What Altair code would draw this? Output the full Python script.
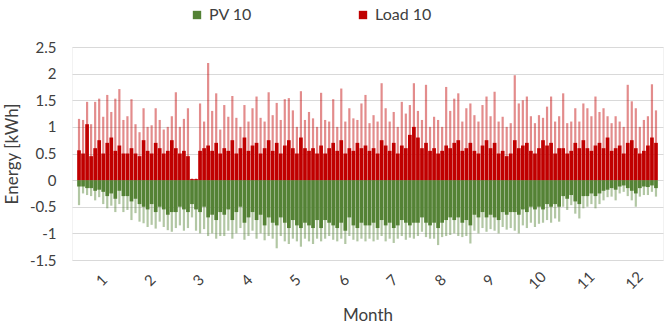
import altair as alt
import pandas as pd

# 12 slots per month, 144 slots over the year
month_labels = [str(m) for m in range(1, 13)]
series_names = ["PV 10", "Load 10"]
series_colors = ["#548235", "#C00000"]

load_peak = [
    1.15, 1.13, 1.47, 1.05, 1.47, 1.53, 1.19, 1.60, 1.28, 1.53, 1.71, 1.13,
    1.20, 1.52, 1.05, 0.90, 1.35, 1.00, 1.03, 1.35, 1.13, 0.95, 1.00, 1.20,
    1.65, 1.00, 1.15, 1.35, 0.03, 0.03, 1.44, 1.10, 2.20, 1.30, 1.63, 0.95,
    1.41, 1.19, 1.58, 1.17, 1.00, 1.41, 1.10, 1.35, 1.57, 1.17, 1.10, 1.65,
    1.22, 1.45, 1.13, 1.52, 1.54, 1.31, 1.00, 1.67, 1.13, 1.28, 1.16, 1.00,
    1.64, 1.13, 1.10, 1.52, 1.00, 1.72, 1.10, 1.35, 1.16, 1.13, 1.44, 1.60,
    1.07, 1.22, 1.10, 1.82, 1.35, 1.10, 1.28, 1.00, 1.47, 1.25, 1.41, 1.82,
    1.30, 1.13, 1.79, 1.00, 1.19, 1.13, 1.00, 1.75, 1.30, 1.53, 1.63, 1.10,
    1.35, 1.44, 1.22, 1.10, 1.41, 1.57, 1.20, 1.66, 1.10, 1.19, 1.00, 1.07,
    1.97, 1.44, 1.50, 1.57, 1.20, 1.07, 1.22, 1.17, 1.38, 1.57, 1.10, 1.20,
    1.63, 1.07, 1.10, 1.35, 1.10, 1.44, 1.35, 1.20, 1.57, 1.28, 1.35, 1.20,
    1.07, 1.20, 1.10, 1.00, 1.79, 1.48, 1.35, 1.00, 1.13, 1.20, 1.80, 1.31,
]
load_core = [
    0.56, 0.50, 1.05, 0.45, 0.60, 0.75, 0.50, 0.70, 0.80, 0.55, 0.65, 0.50,
    0.50, 0.60, 0.50, 0.45, 0.75, 0.55, 0.50, 0.70, 0.60, 0.50, 0.55, 0.75,
    0.60, 0.50, 0.55, 0.45, 0.02, 0.02, 0.55, 0.60, 0.65, 0.55, 0.70, 0.50,
    0.60, 0.55, 0.75, 0.50, 0.60, 0.80, 0.55, 0.65, 0.70, 0.50, 0.60, 0.75,
    0.55, 0.70, 0.50, 0.65, 0.75, 0.60, 0.50, 0.80, 0.60, 0.55, 0.60, 0.50,
    0.65, 0.50, 0.60, 0.70, 0.55, 0.75, 0.50, 0.60, 0.55, 0.70, 0.60, 0.65,
    0.55, 0.60, 0.50, 0.75, 0.65, 0.55, 0.70, 0.50, 0.65, 0.60, 0.85, 1.00,
    0.80, 0.60, 0.70, 0.55, 0.60, 0.50, 0.55, 0.65, 0.60, 0.70, 0.75, 0.55,
    0.60, 0.70, 0.55, 0.50, 0.65, 0.75, 0.60, 0.70, 0.50, 0.55, 0.45, 0.50,
    0.75, 0.60, 0.65, 0.70, 0.55, 0.50, 0.60, 0.75, 0.65, 0.70, 0.50, 0.60,
    0.60, 0.50, 0.55, 0.70, 0.60, 0.75, 0.60, 0.55, 0.65, 0.70, 0.60, 0.80,
    0.55, 0.60, 0.65, 0.50, 0.70, 0.75, 0.60, 0.50, 0.55, 0.65, 0.80, 0.70,
]
pv_peak = [
    -0.47, -0.25, -0.28, -0.30, -0.38, -0.32, -0.45, -0.53, -0.48, -0.60, -0.45, -0.60,
    -0.56, -0.75, -0.62, -0.78, -0.81, -0.88, -0.84, -0.91, -0.78, -0.88, -0.94, -0.97,
    -0.90, -0.85, -0.95, -0.90, -0.70, -0.95, -1.00, -0.92, -1.05, -1.00, -1.10, -1.05,
    -1.05, -0.95, -1.10, -1.00, -0.90, -1.12, -1.05, -0.95, -1.10, -1.00, -1.13, -1.05,
    -1.10, -1.28, -1.05, -1.15, -1.20, -1.10, -1.15, -1.25, -1.10, -1.15, -1.20, -1.10,
    -1.15, -1.10, -1.05, -1.12, -1.15, -1.10, -1.20, -1.05, -1.12, -1.15, -1.10, -1.15,
    -1.10, -1.15, -1.12, -1.05, -1.15, -1.10, -1.18, -1.10, -1.05, -1.12, -1.08, -1.10,
    -1.05, -0.97, -1.07, -1.10, -1.10, -1.22, -1.07, -1.05, -1.03, -1.00, -1.05, -1.07,
    -1.05, -1.19, -0.95, -1.00, -0.90, -0.97, -0.92, -0.95, -1.00, -0.88, -0.93, -0.90,
    -0.95, -1.00, -0.85, -0.90, -0.80, -0.88, -0.82, -0.80, -0.75, -0.80, -0.72, -0.78,
    -0.50, -0.56, -0.47, -0.63, -0.72, -0.53, -0.50, -0.45, -0.53, -0.45, -0.38, -0.32,
    -0.31, -0.38, -0.25, -0.22, -0.30, -0.38, -0.50, -0.31, -0.28, -0.28, -0.22, -0.31,
]
pv_core = [
    -0.12, -0.12, -0.15, -0.15, -0.20, -0.18, -0.22, -0.30, -0.25, -0.35, -0.20, -0.30,
    -0.30, -0.40, -0.35, -0.45, -0.50, -0.55, -0.45, -0.60, -0.50, -0.55, -0.65, -0.60,
    -0.60, -0.50, -0.55, -0.60, -0.45, -0.55, -0.60, -0.50, -0.70, -0.65, -0.75, -0.60,
    -0.65, -0.55, -0.75, -0.60, -0.50, -0.80, -0.70, -0.60, -0.75, -0.65, -0.85, -0.70,
    -0.80, -0.85, -0.70, -0.80, -0.90, -0.75, -0.85, -0.90, -0.80, -0.85, -0.90, -0.75,
    -0.90, -0.75, -0.80, -0.85, -0.90, -0.80, -0.95, -0.70, -0.85, -0.90, -0.80, -0.85,
    -0.85, -0.80, -0.90, -0.75, -0.85, -0.80, -0.90, -0.85, -0.75, -0.80, -0.85, -0.80,
    -0.80, -0.70, -0.80, -0.85, -0.80, -0.90, -0.80, -0.75, -0.70, -0.75, -0.70, -0.80,
    -0.75, -0.85, -0.65, -0.70, -0.60, -0.70, -0.65, -0.70, -0.75, -0.60, -0.65, -0.60,
    -0.60, -0.65, -0.55, -0.60, -0.50, -0.55, -0.50, -0.55, -0.45, -0.50, -0.45, -0.50,
    -0.30, -0.35, -0.28, -0.40, -0.45, -0.30, -0.30, -0.25, -0.30, -0.25, -0.20, -0.18,
    -0.15, -0.18, -0.12, -0.10, -0.15, -0.20, -0.25, -0.15, -0.12, -0.13, -0.10, -0.15,
]

n = len(load_peak)
rows = []
for i in range(n):
    rows.append({"pos": i + 0.5, "series": "PV 10", "peak": pv_peak[i], "core": pv_core[i]})
    rows.append({"pos": i + 0.5, "series": "Load 10", "peak": load_peak[i], "core": load_core[i]})
df = pd.DataFrame(rows)

FONT = "Lato"
TXT = "#404040"

x_axis = alt.Axis(
    values=[12 * k + 6 for k in range(12)],
    labelExpr="toString((datum.value + 6) / 12)",
    labelAngle=315, labelAlign="center", labelBaseline="middle",
    labelPadding=20, ticks=False, domain=False, grid=False,
    labelFont=FONT, labelFontSize=15, labelColor=TXT,
    title="Month", titleFont=FONT, titleFontSize=17, titleFontWeight="normal",
    titleColor=TXT, titlePadding=16,
)
y_axis = alt.Axis(
    values=[-1.5, -1, -0.5, 0, 0.5, 1, 1.5, 2, 2.5],
    labelExpr="toString(datum.value)",
    ticks=False, domain=False, labelPadding=16,
    labelFont=FONT, labelFontSize=15, labelColor=TXT,
    gridColor="#d9d9d9", gridWidth=1,
    title="Energy [kWh]", titleFont=FONT, titleFontSize=17, titleFontWeight="normal",
    titleColor=TXT, titlePadding=8,
)
x_enc = alt.X("pos:Q", scale=alt.Scale(domain=[0, n], nice=False, zero=False), axis=x_axis)
color_enc = alt.Color(
    "series:N",
    scale=alt.Scale(domain=series_names, range=series_colors),
    legend=alt.Legend(
        title=None, orient="none", legendX=117, legendY=-40, direction="horizontal",
        symbolType="square", symbolSize=70, symbolOpacity=1, symbolStrokeWidth=0,
        labelFont=FONT, labelFontSize=16, labelColor=TXT, labelOffset=4,
        columnPadding=103, padding=0,
    ),
)
yscale = alt.Scale(domain=[-1.5, 2.5], nice=False)

peaks = alt.Chart(df).mark_bar(size=2.2, opacity=0.45).encode(
    x=x_enc,
    y=alt.Y("peak:Q", scale=yscale, axis=y_axis),
    color=color_enc,
)
core = alt.Chart(df).mark_bar(size=3.7, opacity=1).encode(
    x=x_enc,
    y=alt.Y("core:Q", scale=yscale, axis=y_axis),
    color=color_enc,
)

chart = alt.layer(peaks, core).properties(
    width=591, height=213,
    autosize=alt.AutoSizeParams(type="none"),
    padding={"left": 72, "top": 47, "right": 2, "bottom": 69},
).configure_view(stroke="#f2f2f2")

chart.save("out.html", embed_options={"renderer": "svg", "actions": False})
